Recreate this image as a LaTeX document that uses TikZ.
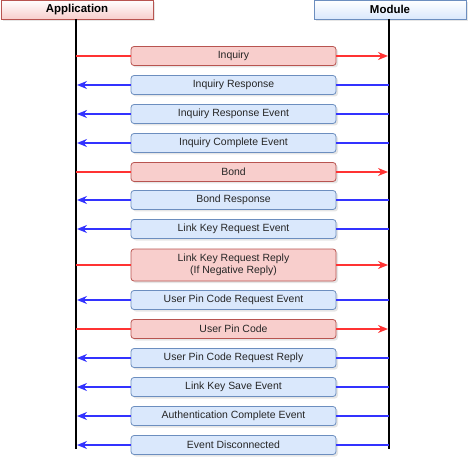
\documentclass[tikz,border=0pt]{standalone}
\usepackage{fontspec}
\setmainfont{Liberation Sans}
\usetikzlibrary{arrows.meta,shadows}
\definecolor{reqfill}{HTML}{F8CECC}
\definecolor{reqdraw}{HTML}{B85450}
\definecolor{rspfill}{HTML}{DAE8FC}
\definecolor{rspdraw}{HTML}{6C8EBF}
\definecolor{reqline}{HTML}{FF3333}
\definecolor{rspline}{HTML}{3333FF}
\tikzset{
	head/.style={draw, line width=0.8bp, minimum width=152bp, minimum height=19bp, inner sep=0pt,
		font=\fontsize{11.5}{13}\selectfont\bfseries, shading=axis, top color=white,
		drop shadow={shadow xshift=2bp, shadow yshift=-2bp, opacity=0.2}},
	msgbox/.style={draw, line width=0.8bp, rounded corners=3bp, minimum width=205bp, minimum height=19bp,
		inner sep=0pt, align=center, text=black!85, font=\fontsize{10.5}{12}\selectfont,
		drop shadow={shadow xshift=2bp, shadow yshift=-2bp, opacity=0.2}},
	reqbox/.style={msgbox, fill=reqfill, draw=reqdraw},
	rspbox/.style={msgbox, fill=rspfill, draw=rspdraw},
	reqarrow/.style={line width=1.5bp, color=reqline},
	rsparrow/.style={line width=1.5bp, color=rspline},
	lifeline/.style={line width=2bp, color=black}
}
% request: app -> module, response: module -> app
\def\req(#1){\draw[reqarrow] (#1 -| app) -- (#1.west); \draw[reqarrow, -{Stealth[length=10bp, width=8bp]}, shorten >=1bp] (#1.east) -- (#1 -| mod);}
\def\rsp(#1){\draw[rsparrow] (#1 -| mod) -- (#1.east); \draw[rsparrow, -{Stealth[length=10bp, width=8bp]}, shorten >=1bp] (#1.west) -- (#1 -| app);}

\begin{document}
\begin{tikzpicture}[x=1bp, y=-1bp]
	%%%%% START %%%%%
	\useasboundingbox (0,0) rectangle (468,458);
	
	\node[head, draw=reqdraw, bottom color=reqfill] (apphead) at (77,9.5) {Application};
	\node[head, draw=rspdraw, bottom color=rspfill] (modhead) at (390,9.5) {Module};
	
	\coordinate (app) at (76,19);
	\coordinate (mod) at (389,19);
	\coordinate (append) at (76,449);
	\coordinate (modend) at (389,449);
	\draw[lifeline] (app) -- (append);
	\draw[lifeline] (mod) -- (modend);
	
	\node[reqbox] (inquiry) at (233.5,56) {Inquiry};
	\node[rspbox] (inqresp) at (233.5,85) {Inquiry Response};
	\node[rspbox] (inqevent) at (233.5,114) {Inquiry Response Event};
	\node[rspbox] (inqdone) at (233.5,143) {Inquiry Complete Event};
	\node[reqbox] (bond) at (233.5,172) {Bond};
	\node[rspbox] (bondresp) at (233.5,200) {Bond Response};
	\node[rspbox] (keyreq) at (233.5,229) {Link Key Request Event};
	\node[reqbox, minimum height=32bp] (keyreply) at (233.5,265) {Link Key Request Reply\\(If Negative Reply)};
	\node[rspbox] (pinreq) at (233.5,300) {User Pin Code Request Event};
	\node[reqbox] (pincode) at (233.5,329) {User Pin Code};
	\node[rspbox] (pinreply) at (233.5,358) {User Pin Code Request Reply};
	\node[rspbox] (keysave) at (233.5,387) {Link Key Save Event};
	\node[rspbox] (authdone) at (233.5,416) {Authentication Complete Event};
	\node[rspbox] (disconn) at (233.5,445) {Event Disconnected};
	
	\req(inquiry)
	\rsp(inqresp)
	\rsp(inqevent)
	\rsp(inqdone)
	\req(bond)
	\rsp(bondresp)
	\rsp(keyreq)
	\req(keyreply)
	\rsp(pinreq)
	\req(pincode)
	\rsp(pinreply)
	\rsp(keysave)
	\rsp(authdone)
	\rsp(disconn)
	
	%%%%% END %%%%%
\end{tikzpicture}
\end{document}
